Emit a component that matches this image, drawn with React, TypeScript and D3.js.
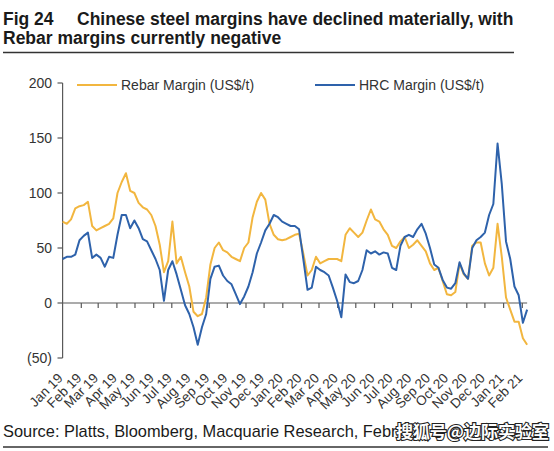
import React from "react";
import * as d3 from "d3";

const W = 554;
const H = 451;

const titleLine1Prefix = "Fig 24";
const titleLine1 = "Chinese steel margins have declined materially, with";
const titleLine2 = "Rebar margins currently negative";
const sourceText = "Source: Platts, Bloomberg, Macquarie Research, Febr";
const watermark = "搜狐号@边际实验室";

const seriesNames = ["Rebar Margin (US$/t)", "HRC Margin (US$/t)"];
const seriesColors = ["#F2B63F", "#2E62AB"];

const yTicks = [-50, 0, 50, 100, 150, 200];
const firstMonth = new Date(2019, 0, 1);
const lastMonth = new Date(2021, 1, 1);
const monthTicks = d3.timeMonth.range(firstMonth, d3.timeDay.offset(lastMonth, 1));

// weekly readings starting 1 Jan 2019
const rebarValues = [
  74, 72, 76, 86, 88, 89, 92, 70, 66, 68,
  70, 72, 77, 100, 110, 118, 102, 100, 91, 87,
  85, 80, 70, 53, 28, 38, 74, 36, 42, 28,
  15, -8, -12, -10, 5, 35, 50, 55, 48, 46,
  42, 40, 38, 50, 55, 78, 92, 100, 94, 72,
  62, 58, 57, 58, 60, 62, 63, 45, 25, 30,
  42, 36, 38, 40, 40, 40, 38, 62, 68, 64,
  60, 64, 75, 85, 76, 74, 67, 62, 52, 50,
  56, 60, 50, 53, 57, 52, 47, 36, 30, 32,
  20, 8, 7, 10, 36, 26, 22, 52, 55, 55,
  36, 25, 32, 72, 42, 5, -6, -17, -17, -32,
  -38,
];

const hrcValues = [
  40, 42, 42, 44, 57, 61, 64, 41, 44, 41,
  33, 42, 41, 62, 80, 80, 68, 75, 68, 58,
  56, 48, 40, 30, 2, 30, 38, 26, 12, -2,
  -10, -22, -38, -22, -10, 22, 33, 34, 25, 20,
  17, 8, -1, 6, 15, 28, 45, 55, 66, 72,
  80, 78, 74, 72, 70, 70, 67, 40, 12, 14,
  33, 30, 28, 25, 14, 2, -13, 26, 19, 18,
  20, 30, 48, 45, 47, 44, 46, 45, 32, 30,
  52, 60, 62, 60, 67, 72, 63, 50, 35, 32,
  21, 14, 13, 18, 37, 27, 22, 50, 57, 60,
  64, 80, 90, 145, 108, 56, 40, 15, 7, -18,
  -6,
];

const sampleDates = rebarValues.map((_, i) => d3.timeDay.offset(firstMonth, 7 * i));

const fmtY = (v: number) => (v < 0 ? `(${Math.abs(v)})` : `${v}`);
const fmtMonth = d3.timeFormat("%b %y");

export default function App() {
  const x = d3.scaleTime().domain([firstMonth, lastMonth]).range([62.6, 522.3]);
  const y = d3.scaleLinear().domain([-50, 200]).range([358, 83]);
  const axisColor = "#595959";
  const textColor = "#333333";

  const line = d3
    .line<number>()
    .x((_, i) => x(sampleDates[i]))
    .y((d) => y(d))
    .curve(d3.curveLinear);

  const xEnd = x(sampleDates[sampleDates.length - 1]);

  return (
    <svg
      width={W}
      height={H}
      style={{ position: "absolute", left: 0, top: 0, background: "#fff" }}
      fontFamily="'Liberation Sans', Arial, sans-serif"
    >
      {/* Title */}
      <text x={3} y={24.5} fontSize={17.5} fontWeight="bold" fill="#1a1a1a">
        {titleLine1Prefix}
      </text>
      <text x={77} y={24.5} fontSize={17.5} fontWeight="bold" fill="#1a1a1a">
        {titleLine1}
      </text>
      <text x={3} y={44} fontSize={17.5} fontWeight="bold" fill="#1a1a1a">
        {titleLine2}
      </text>
      <line x1={3} x2={514} y1={52.5} y2={52.5} stroke="#333" strokeWidth={1.5} />

      {/* Y axis */}
      <line x1={62.6} x2={62.6} y1={y(200)} y2={y(-50)} stroke={axisColor} strokeWidth={1.2} />
      {yTicks.map((t) => (
        <g key={t}>
          <line x1={57.5} x2={62.6} y1={y(t)} y2={y(t)} stroke={axisColor} strokeWidth={1.2} />
          <text
            x={52}
            y={y(t)}
            dy="0.35em"
            textAnchor="end"
            fontSize={14}
            fill={textColor}
          >
            {fmtY(t)}
          </text>
        </g>
      ))}

      {/* X axis along zero */}
      <line x1={62.6} x2={xEnd} y1={y(0)} y2={y(0)} stroke={axisColor} strokeWidth={1.2} />
      {monthTicks.map((d, i) => (
        <g key={i}>
          {i > 0 && (
            <line
              x1={x(d)}
              x2={x(d)}
              y1={y(0)}
              y2={y(0) + 5}
              stroke={axisColor}
              strokeWidth={1.2}
            />
          )}
          <text
            transform={`translate(${x(d) + 1},${379}) rotate(-45)`}
            textAnchor="end"
            fontSize={13.5}
            fill={textColor}
          >
            {fmtMonth(d)}
          </text>
        </g>
      ))}

      {/* Series */}
      <path d={line(rebarValues) || ""} fill="none" stroke={seriesColors[0]} strokeWidth={2} strokeLinejoin="round" />
      <path d={line(hrcValues) || ""} fill="none" stroke={seriesColors[1]} strokeWidth={2} strokeLinejoin="round" />

      {/* Legend */}
      <line x1={77} x2={117} y1={85} y2={85} stroke={seriesColors[0]} strokeWidth={2} />
      <text x={121} y={90} fontSize={14} fill={textColor}>
        {seriesNames[0]}
      </text>
      <line x1={315} x2={355} y1={85} y2={85} stroke={seriesColors[1]} strokeWidth={2} />
      <text x={359} y={90} fontSize={14} fill={textColor}>
        {seriesNames[1]}
      </text>

      {/* Source */}
      <text x={3} y={437} fontSize={16.4} fill="#1a1a1a">
        {sourceText}
      </text>
      <text
        x={549}
        y={438}
        textAnchor="end"
        fontSize={17}
        fontWeight="bold"
        fontFamily="'Noto Sans CJK SC', sans-serif"
        fill="#ffffff"
        stroke="#222"
        strokeWidth={2.2}
        paintOrder="stroke"
      >
        {watermark}
      </text>
      <line x1={3} x2={548} y1={447} y2={447} stroke="#333" strokeWidth={1.5} />
    </svg>
  );
}
